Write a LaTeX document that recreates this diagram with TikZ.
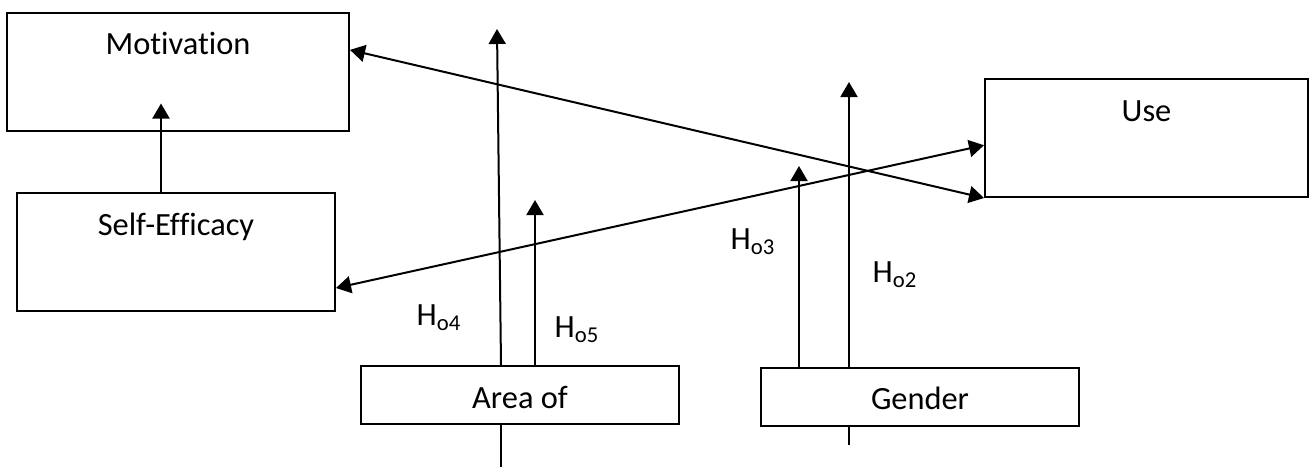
\documentclass[tikz,border=0pt]{standalone}
\usepackage{fontspec}
\setmainfont{Carlito}[Ligatures=NoCommon]
\usepackage{tikz}
\usetikzlibrary{arrows.meta,calc}

\tikzset{
  block/.style={draw,fill=white,line width=1pt,inner sep=0pt,text height=21pt,text depth=38pt},
  small block/.style={block,text depth=8pt},
  hyp/.style={inner sep=0pt}
}

\begin{document}
\begin{tikzpicture}[x=0.5pt,y=-0.5pt,>={Triangle[length=7.5pt,width=8.5pt]},line width=1pt,
    font=\fontsize{16.2}{19}\selectfont]
    \useasboundingbox (0,0) rectangle (1311,468);

    % free ends of the moderator arrows
    \coordinate (h4top)  at (497,29);
    \coordinate (h4foot) at (501,467);
    \coordinate (h5top)  at (535,200);
    \coordinate (h3top)  at (799,166);
    \coordinate (h2top)  at (849,82);
    \coordinate (h2foot) at (849,445);

    \node[block,minimum width=171pt] (mot)  at (178,71.5)   {Motivation};
    \node[block,minimum width=159pt] (se)   at (176,252)    {Self-Efficacy};
    \node[block,minimum width=161.5pt] (use) at (1146.5,138) {Use};
    \node[small block,minimum width=159pt] (area)   at (520,395)   {Area of};
    \node[small block,minimum width=159pt] (gender) at (920,396.5) {Gender};

    \node[hyp] (ho4) at (439,318) {H\textsubscript{o4}};
    \node[hyp] (ho5) at (577,330) {H\textsubscript{o5}};
    \node[hyp] (ho3) at (753,242) {H\textsubscript{o3}};
    \node[hyp] (ho2) at (895,275) {H\textsubscript{o2}};

    \draw[->] ([xshift=-7.5pt]se.north) -- ([xshift=-8.5pt,yshift=14pt]mot.south);
    \draw[<->] ($(mot.north east)!0.32!(mot.south east)$) -- (use.south west);
    \draw[<->] ($(se.north east)!0.8!(se.south east)$) -- ($(use.north west)!0.56!(use.south west)$);

    \draw[->] ([xshift=-9.5pt]area.north) -- (h4top);
    \draw     ([xshift=-9.5pt]area.south) -- (h4foot);
    \draw[->] ([xshift=7.5pt]area.north) -- (h5top);
    \draw[->] ([xshift=-60.5pt]gender.north) -- (h3top);
    \draw[->] ([xshift=-35.5pt]gender.north) -- (h2top);
    \draw     ([xshift=-35.5pt]gender.south) -- (h2foot);
\end{tikzpicture}
\end{document}
